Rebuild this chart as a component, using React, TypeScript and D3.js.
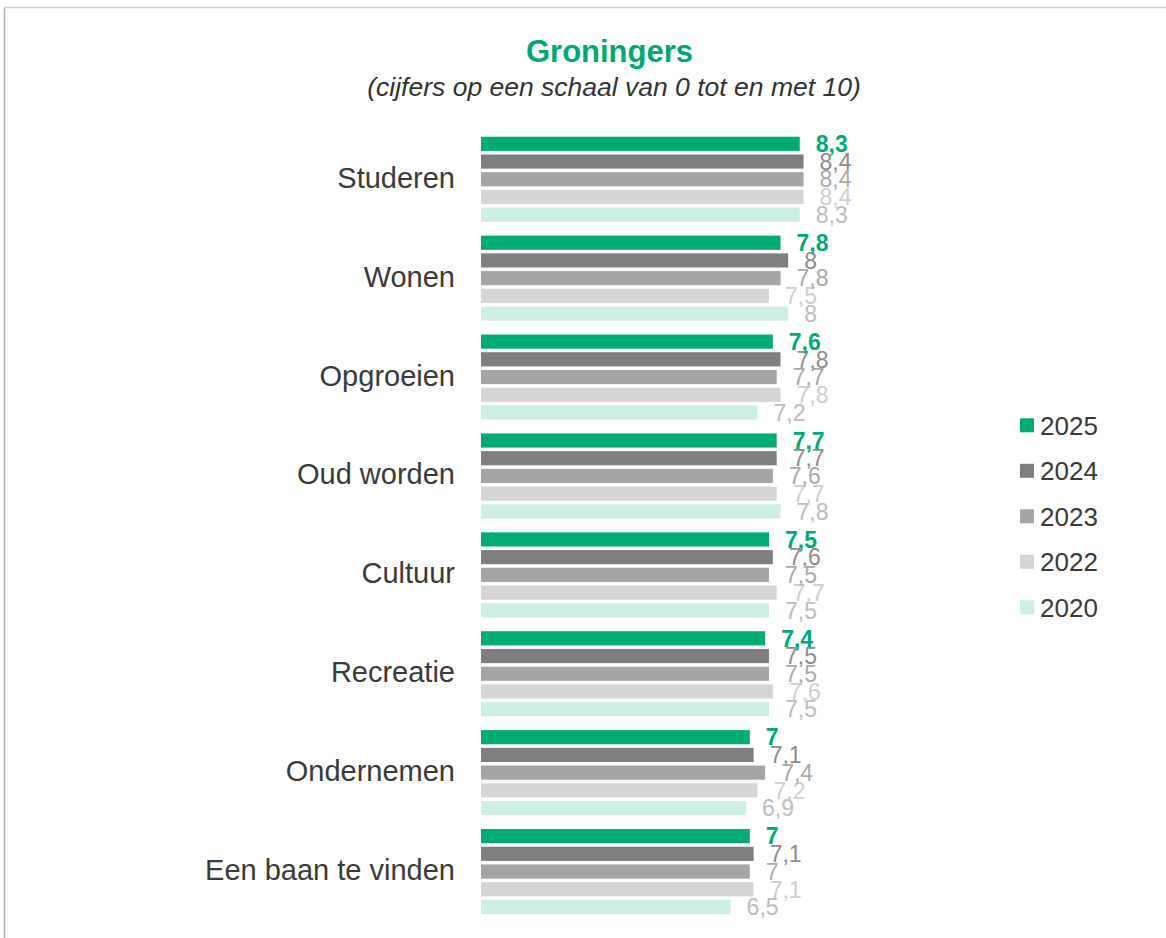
import React from "react";
import * as d3 from "d3";

const categories = ["Studeren", "Wonen", "Opgroeien", "Oud worden", "Cultuur", "Recreatie", "Ondernemen", "Een baan te vinden"];
const seriesNames = ["2025", "2024", "2023", "2022", "2020"];
const values2025 = [8.3, 7.8, 7.6, 7.7, 7.5, 7.4, 7, 7];
const values2024 = [8.4, 8, 7.8, 7.7, 7.6, 7.5, 7.1, 7.1];
const values2023 = [8.4, 7.8, 7.7, 7.6, 7.5, 7.5, 7.4, 7];
const values2022 = [8.4, 7.5, 7.8, 7.7, 7.7, 7.6, 7.2, 7.1];
const values2020 = [8.3, 8, 7.2, 7.8, 7.5, 7.5, 6.9, 6.5];
const seriesValues = [values2025, values2024, values2023, values2022, values2020];

const barColors = ["#00ab76", "#7f7f7f", "#a5a5a5", "#d6d6d6", "#cdeee2"];
const labelColors = ["#00ab76", "#8c8c8c", "#aaaaaa", "#cfcfcf", "#bdbdbd"];

const W = 1166;
const H = 938;

export default function App() {
  const x = d3.scaleLinear().domain([0, 10]).range([481, 865]);
  const y = d3
    .scaleBand<string>()
    .domain(categories)
    .range([129.8, 921])
    .paddingInner(0.14)
    .paddingOuter(0.07);
  const yi = d3
    .scaleBand<string>()
    .domain(seriesNames)
    .range([0, y.bandwidth()])
    .paddingInner(0.2)
    .paddingOuter(0);

  const fmt = (v: number) => String(v).replace(".", ",");
  const labelSize = 23;
  const font = "Liberation Sans, Arial, sans-serif";

  return (
    <svg
      width={W}
      height={H}
      style={{ position: "absolute", left: 0, top: 0, background: "#fff" }}
      fontFamily={font}
    >
      <line x1={4.5} y1={7.5} x2={W} y2={7.5} stroke="#cfcfcf" strokeWidth={1.5} />
      <line x1={4.5} y1={7.5} x2={4.5} y2={H} stroke="#b0b0b0" strokeWidth={1.5} />

      <text x={609.5} y={61.5} textAnchor="middle" fontSize={31} fontWeight="bold" fill="#00a874">
        Groningers
      </text>
      <text x={614} y={95.5} textAnchor="middle" fontSize={26.5} fontStyle="italic" fill="#333">
        (cijfers op een schaal van 0 tot en met 10)
      </text>

      {categories.map((c) => (
        <text
          key={c}
          x={455}
          y={(y(c) as number) + y.bandwidth() / 2 + 8.5}
          textAnchor="end"
          fontSize={29}
          fill="#3a3a3a"
        >
          {c}
        </text>
      ))}

      {seriesNames.map((s, si) =>
        categories.map((c, ci) => {
          const v = seriesValues[si][ci];
          const by = (y(c) as number) + (yi(s) as number);
          return (
            <rect
              key={s + c}
              x={x(0)}
              y={by}
              width={x(v) - x(0)}
              height={yi.bandwidth()}
              fill={barColors[si]}
            />
          );
        })
      )}

      {[...seriesNames].reverse().map((s) => {
        const si = seriesNames.indexOf(s);
        return categories.map((c, ci) => {
          const v = seriesValues[si][ci];
          const cy = (y(c) as number) + (yi(s) as number) + yi.bandwidth() / 2;
          return (
            <text
              key={"l" + s + c}
              x={x(v) + 16}
              y={cy + labelSize * 0.358}
              fontSize={labelSize}
              fontWeight={si === 0 ? "bold" : "normal"}
              fill={labelColors[si]}
            >
              {fmt(v)}
            </text>
          );
        });
      })}

      {seriesNames.map((s, si) => (
        <g key={"lg" + s} transform={`translate(1020, ${418.3 + si * 45.5})`}>
          <rect x={0} y={0} width={14} height={14} fill={barColors[si]} />
          <text x={20} y={7 + 26 * 0.358} fontSize={26} fill="#3a3a3a">
            {s}
          </text>
        </g>
      ))}
    </svg>
  );
}
